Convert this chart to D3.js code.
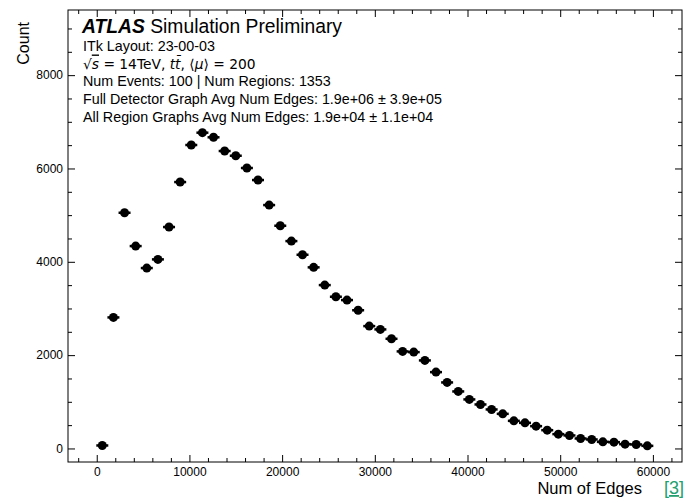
<!DOCTYPE html>
<html lang="en">
<head>
  <meta charset="UTF-8">
  <title>Num of Edges</title>
  <style>
    body { margin: 0; background: #fff; }
    svg { display: block; font-family: "Liberation Sans", Arial, sans-serif; }
    .axis path { display: none; }
    .axis line { stroke: #000; stroke-width: 1; }
    .axis text { font-size: 12px; fill: #000; font-family: "Liberation Sans", Arial, sans-serif; }
  </style>
</head>
<body>
  <div id="chart"></div>

  <script src="https://d3js.org/d3.v7.min.js"></script>
  <script>
    // bin centres (bins of 1200 edges) and counts
    const binCenters = [
      600, 1800, 3000, 4200, 5400, 6600, 7800, 9000, 10200, 11400,
      12600, 13800, 15000, 16200, 17400, 18600, 19800, 21000, 22200, 23400,
      24600, 25800, 27000, 28200, 29400, 30600, 31800, 33000, 34200, 35400,
      36600, 37800, 39000, 40200, 41400, 42600, 43800, 45000, 46200, 47400,
      48600, 49800, 51000, 52200, 53400, 54600, 55800, 57000, 58200, 59400
    ];
    const counts = [
      64, 2808, 5051, 4337, 3866, 4052, 4745, 5709, 6503, 6767,
      6668, 6374, 6273, 6010, 5752, 5216, 4773, 4444, 4151, 3881,
      3501, 3251, 3180, 2962, 2622, 2551, 2350, 2080, 2065, 1887,
      1636, 1415, 1222, 1051, 943, 836, 742, 592, 549, 478,
      392, 307, 279, 214, 193, 142, 135, 92, 86, 56
    ];
    const xTicks = [0, 10000, 20000, 30000, 40000, 50000, 60000];
    const yTicks = [0, 2000, 4000, 6000, 8000];
    const headerLines = [
      "ITk Layout: 23-00-03",
      null, // sqrt(s) line, built with tspans below
      "Num Events: 100 | Num Regions: 1353",
      "Full Detector Graph Avg Num Edges: 1.9e+06 \u00b1 3.9e+05",
      "All Region Graphs Avg Num Edges: 1.9e+04 \u00b1 1.1e+04"
    ];

    const width = 685, height = 499;
    const mLeft = 68, mRight = 682, mTop = 10, mBottom = 462;

    const svg = d3.select("#chart").append("svg")
      .attr("width", width)
      .attr("height", height);

    const x = d3.scaleLinear().domain([-3100, 63140]).range([mLeft, mRight]);
    const y = d3.scaleLinear().domain([-290, 9396]).range([mBottom, mTop]);

    const xMinor = d3.range(-2000, 63000, 2000).filter(v => v % 10000 !== 0);
    const yMinor = d3.range(0, 9400, 500).filter(v => v % 2000 !== 0);

    // inward ticks on all four sides, ATLAS style
    function addAxis(axisFn, scale, ticks, minor, transform, labels) {
      const g = svg.append("g").attr("class", "axis").attr("transform", transform);
      g.call(axisFn(scale).tickValues(ticks).tickSize(-7).tickPadding(5)
        .tickFormat(labels ? d3.format("d") : ""));
      svg.append("g").attr("class", "axis").attr("transform", transform)
        .call(axisFn(scale).tickValues(minor).tickSize(-4).tickFormat(""));
    }
    addAxis(d3.axisBottom, x, xTicks, xMinor, `translate(0,${mBottom})`, true);
    addAxis(d3.axisTop, x, xTicks, xMinor, `translate(0,${mTop})`, false);
    addAxis(d3.axisLeft, y, yTicks, yMinor, `translate(${mLeft},0)`, true);
    addAxis(d3.axisRight, y, yTicks, yMinor, `translate(${mRight},0)`, false);

    svg.append("rect")
      .attr("x", mLeft).attr("y", mTop)
      .attr("width", mRight - mLeft).attr("height", mBottom - mTop)
      .attr("fill", "none").attr("stroke", "#000").attr("stroke-width", 1);

    // markers with small horizontal error bars
    const pts = svg.append("g").selectAll("g")
      .data(binCenters.map((c, i) => ({ c, n: counts[i] })))
      .join("g")
      .attr("transform", d => `translate(${x(d.c)},${y(d.n)})`);
    pts.append("line")
      .attr("x1", -6).attr("x2", 6)
      .attr("stroke", "#000").attr("stroke-width", 2.5);
    pts.append("circle").attr("r", 4.5).attr("fill", "#000");

    // axis titles
    svg.append("text")
      .attr("transform", "translate(29,22) rotate(-90)")
      .attr("text-anchor", "end")
      .style("font-size", "16px")
      .text("Count");
    svg.append("text")
      .attr("x", 642).attr("y", 494)
      .attr("text-anchor", "end")
      .style("font-size", "16.5px")
      .text("Num of Edges");
    svg.append("text")
      .attr("x", 664).attr("y", 494)
      .style("font-size", "18px")
      .style("fill", "#22a06f")
      .style("text-decoration", "underline")
      .text("[3]");

    // header block
    const title = svg.append("text").attr("x", 82).attr("y", 33).style("font-size", "19.3px");
    title.append("tspan").style("font-weight", "bold").style("font-style", "italic").text("ATLAS");
    title.append("tspan").text(" Simulation Preliminary");

    const lineY = [51, 68.5, 86, 104, 121.5];
    headerLines.forEach((t, i) => {
      const txt = svg.append("text").attr("x", 83).attr("y", lineY[i]).style("font-size", "14.3px");
      if (t !== null) {
        txt.text(t);
      } else {
        txt.style("font-family", "'DejaVu Sans', sans-serif").style("font-size", "13.8px");
        txt.append("tspan").text("\u221a");
        txt.append("tspan").style("font-style", "italic").style("text-decoration", "overline").text("s");
        txt.append("tspan").text(" = 14TeV, ");
        txt.append("tspan").style("font-style", "italic").text("t");
        txt.append("tspan").style("font-style", "italic").text("t\u0304");
        txt.append("tspan").text(", \u27e8");
        txt.append("tspan").style("font-style", "italic").text("\u03bc");
        txt.append("tspan").text("\u27e9 = 200");
      }
    });
  </script>
</body>
</html>
